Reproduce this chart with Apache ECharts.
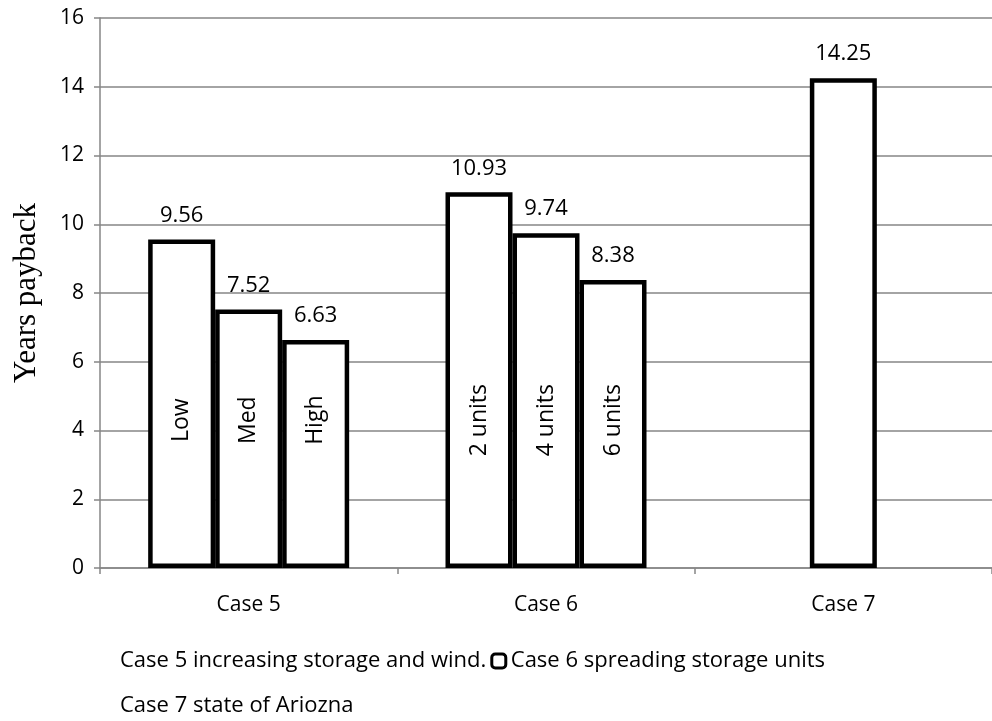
<!DOCTYPE html>
<html>
<head>
<meta charset="utf-8">
<script src="https://cdn.jsdelivr.net/npm/echarts@6/dist/echarts.min.js"></script>
<style>
html,body{margin:0;padding:0;background:#fff;}
#c{width:992px;height:721px;}
</style>
</head>
<body>
<div id="c"></div>
<script>
var categories = ['Case 5', 'Case 6', 'Case 7'];
var seriesNames = ['Case 5 increasing storage and wind.', 'Case 6 spreading storage units', 'Case 7 state of Ariozna'];
var values1 = [9.56, 10.93, null];
var values2 = [7.52, 9.74, 14.25];
var values3 = [6.63, 8.38, null];
var barLabels1 = ['Low', '2 units', null];
var barLabels2 = ['Med', '4 units', null];
var barLabels3 = ['High', '6 units', null];
var inBarLabelLevel = 4.3;
var yTicks = [0, 2, 4, 6, 8, 10, 12, 14, 16];

var FONT = 'Open Sans';

function inBarMarks(labels) {
  var out = [];
  labels.forEach(function (t, i) {
    if (t) out.push({ coord: [i, inBarLabelLevel], value: t });
  });
  return out;
}

function makeSeries(name, vals, labels) {
  return {
    name: name,
    type: 'bar',
    data: vals,
    barWidth: 67,
    barGap: '0%',
    itemStyle: { color: '#ffffff', borderColor: '#000000', borderWidth: 4.5 },
    label: {
      show: true, position: 'top', distance: 13,
      color: '#000', fontFamily: FONT, fontSize: 22
    },
    emphasis: { disabled: true },
    markPoint: {
      symbol: 'circle', symbolSize: 1,
      itemStyle: { color: 'rgba(0,0,0,0)' },
      label: {
        show: true, position: 'inside', rotate: 90,
        color: '#000', fontFamily: FONT, fontSize: 23,
        formatter: function (p) { return p.value; }
      },
      data: inBarMarks(labels)
    }
  };
}

var chart = echarts.init(document.getElementById('c'));
chart.setOption({
  animation: false,
  backgroundColor: '#ffffff',
  grid: { left: 100, right: 0, top: 18, bottom: 153, containLabel: false },
  legend: [
    {
      left: 96, top: 645, orient: 'horizontal',
      itemWidth: 14, itemHeight: 14, itemGap: 4,
      textStyle: { color: '#000', fontFamily: FONT, fontSize: 22 },
      data: [
        { name: seriesNames[0], icon: 'none' },
        { name: seriesNames[1], icon: 'roundRect', itemStyle: { color: '#fff', borderColor: '#000', borderWidth: 3 } }
      ],
      selectedMode: false
    },
    {
      left: 96, top: 690, orient: 'horizontal',
      itemWidth: 14, itemHeight: 14,
      textStyle: { color: '#000', fontFamily: FONT, fontSize: 22 },
      data: [{ name: seriesNames[2], icon: 'none' }],
      selectedMode: false
    }
  ],
  xAxis: {
    type: 'category',
    data: categories,
    axisLine: { lineStyle: { color: '#868686', width: 1.5 } },
    axisTick: { show: true, length: 6, lineStyle: { color: '#868686', width: 1.5 } },
    axisLabel: { color: '#000', fontFamily: FONT, fontSize: 21, margin: 27 }
  },
  yAxis: {
    type: 'value',
    min: 0, max: 16, interval: 2,
    name: 'Years payback',
    nameLocation: 'middle',
    nameGap: 58,
    nameTextStyle: { fontFamily: 'Liberation Serif', fontSize: 31, color: '#000' },
    axisLine: { show: true, lineStyle: { color: '#868686', width: 1.5 } },
    axisTick: { show: true, length: 6, lineStyle: { color: '#868686', width: 1.5 } },
    splitLine: { show: true, lineStyle: { color: '#868686', width: 1.5 } },
    axisLabel: {
      color: '#000', fontFamily: FONT, fontSize: 21, margin: 16,
      formatter: function (v) { return yTicks.indexOf(v) >= 0 ? String(v) : ''; }
    }
  },
  series: [
    makeSeries(seriesNames[0], values1, barLabels1),
    makeSeries(seriesNames[1], values2, barLabels2),
    makeSeries(seriesNames[2], values3, barLabels3)
  ]
});
</script>
</body>
</html>
